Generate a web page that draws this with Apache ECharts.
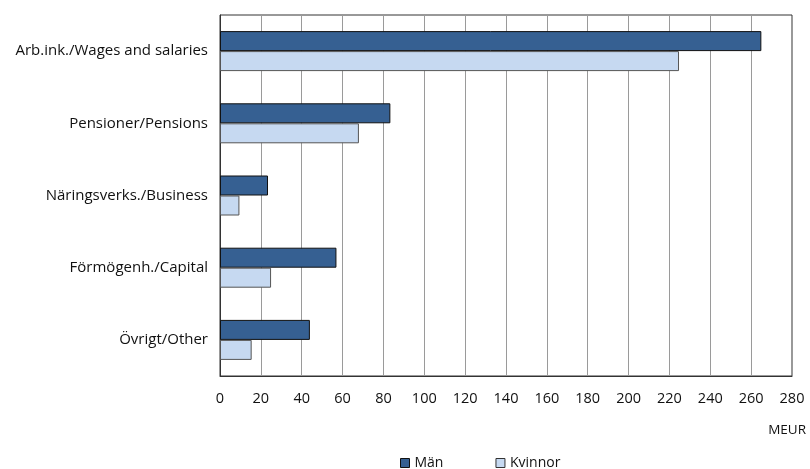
<!DOCTYPE html>
<html><head><meta charset="utf-8">
<script src="https://cdn.jsdelivr.net/npm/echarts@6/dist/echarts.min.js"></script>
<style>html,body{margin:0;padding:0;background:#fff}#c{width:810px;height:469px}</style>
</head><body><div id="c"></div>
<script>
const categories = ["Arb.ink./Wages and salaries","Pensioner/Pensions","Näringsverks./Business","Förmögenh./Capital","Övrigt/Other"];
const man = [265, 83.4, 23.5, 57, 44];
const kvinnor = [224.7, 68, 9.5, 25, 15.5];
const xTicks = [0,20,40,60,80,100,120,140,160,180,200,220,240,260,280];
const FONT = "Open Sans";
const chart = echarts.init(document.getElementById('c'), null, {renderer:'canvas'});
chart.setOption({
  animation:false,
  textStyle:{fontFamily:FONT},
  grid:{left:220,right:18,top:15,bottom:93,containLabel:false,show:true,borderColor:'#333',borderWidth:1},
  xAxis:{type:'value',min:xTicks[0],max:xTicks[xTicks.length-1],interval:20,
    axisLine:{show:true,lineStyle:{color:'#333'}},axisTick:{show:false},
    axisLabel:{color:'#111',fontSize:14.5,margin:15,fontFamily:FONT},
    splitLine:{show:true,lineStyle:{color:'#9a9a9a',width:1}}},
  yAxis:{type:'category',data:categories,inverse:true,
    axisLine:{show:true,lineStyle:{color:'#333'}},axisTick:{show:false},
    axisLabel:{color:'#111',fontSize:15,margin:12,fontFamily:FONT}},
  legend:{top:451,left:395,itemWidth:9,itemHeight:9,itemGap:52,icon:'rect',
    textStyle:{fontSize:14,color:'#111',fontFamily:FONT},
    data:[{name:'Män',itemStyle:{borderColor:'#111',borderWidth:1}},{name:'Kvinnor',itemStyle:{borderColor:'#333',borderWidth:1}}]},
  graphic:[{type:'text',right:4,top:423,style:{text:'MEUR',fontSize:13.5,fill:'#111',fontFamily:FONT}}],
  series:[
    {name:'Män',type:'bar',data:man,barWidth:20,barGap:'0%',
     itemStyle:{color:'#366092',borderColor:'#111',borderWidth:1}},
    {name:'Kvinnor',type:'bar',data:kvinnor,barWidth:20,barGap:'0%',
     itemStyle:{color:'#c6d9f1',borderColor:'#555',borderWidth:1}}
  ]
});
</script></body></html>
